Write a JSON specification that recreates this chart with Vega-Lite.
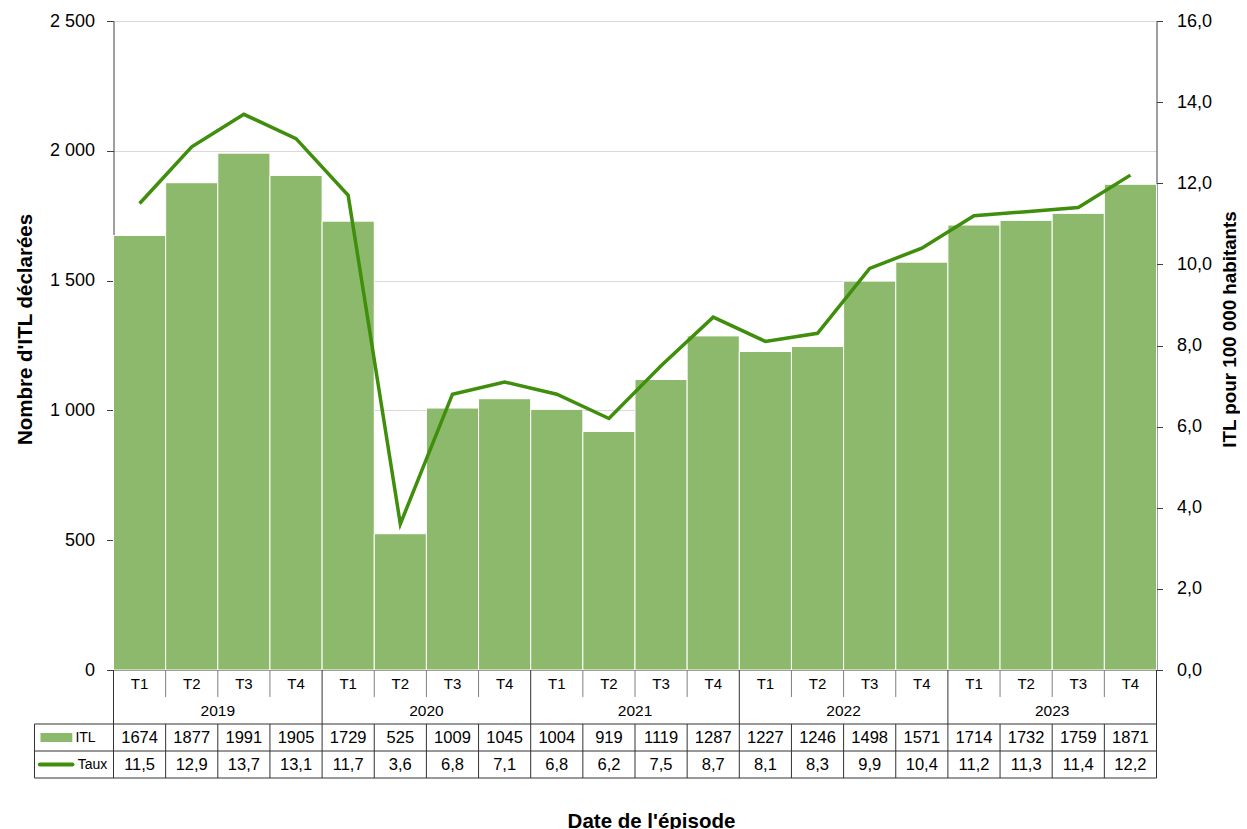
{
  "$schema": "https://vega.github.io/schema/vega-lite/v6.json",
  "background": "white",
  "padding": {"left": 14.5, "top": 12, "right": 0, "bottom": 0},
  "config": {
    "font": "Liberation Sans",
    "view": {"stroke": null},
    "locale": {"number": {"decimal": ",", "thousands": " ", "grouping": [3], "currency": ["", " €"]}},
    "axis": {"labelColor": "#000", "titleColor": "#000", "labelFontSize": 18, "domainColor": "#404040", "tickColor": "#404040"}
  },
  "data": {"values": [
    {"key": "2019-T1", "year": "2019", "q": "T1", "itl": 1674, "taux": 11.5},
    {"key": "2019-T2", "year": "2019", "q": "T2", "itl": 1877, "taux": 12.9},
    {"key": "2019-T3", "year": "2019", "q": "T3", "itl": 1991, "taux": 13.7},
    {"key": "2019-T4", "year": "2019", "q": "T4", "itl": 1905, "taux": 13.1},
    {"key": "2020-T1", "year": "2020", "q": "T1", "itl": 1729, "taux": 11.7},
    {"key": "2020-T2", "year": "2020", "q": "T2", "itl": 525, "taux": 3.6},
    {"key": "2020-T3", "year": "2020", "q": "T3", "itl": 1009, "taux": 6.8},
    {"key": "2020-T4", "year": "2020", "q": "T4", "itl": 1045, "taux": 7.1},
    {"key": "2021-T1", "year": "2021", "q": "T1", "itl": 1004, "taux": 6.8},
    {"key": "2021-T2", "year": "2021", "q": "T2", "itl": 919, "taux": 6.2},
    {"key": "2021-T3", "year": "2021", "q": "T3", "itl": 1119, "taux": 7.5},
    {"key": "2021-T4", "year": "2021", "q": "T4", "itl": 1287, "taux": 8.7},
    {"key": "2022-T1", "year": "2022", "q": "T1", "itl": 1227, "taux": 8.1},
    {"key": "2022-T2", "year": "2022", "q": "T2", "itl": 1246, "taux": 8.3},
    {"key": "2022-T3", "year": "2022", "q": "T3", "itl": 1498, "taux": 9.9},
    {"key": "2022-T4", "year": "2022", "q": "T4", "itl": 1571, "taux": 10.4},
    {"key": "2023-T1", "year": "2023", "q": "T1", "itl": 1714, "taux": 11.2},
    {"key": "2023-T2", "year": "2023", "q": "T2", "itl": 1732, "taux": 11.3},
    {"key": "2023-T3", "year": "2023", "q": "T3", "itl": 1759, "taux": 11.4},
    {"key": "2023-T4", "year": "2023", "q": "T4", "itl": 1871, "taux": 12.2}
  ]},
  "bounds": "flush",
  "spacing": 0,
  "vconcat": [
    {
      "width": 1043,
      "height": 649,
      "layer": [
        {
          "mark": {"type": "bar", "color": "#8DB96C", "stroke": "white", "strokeWidth": 1},
          "encoding": {
            "x": {"field": "key", "type": "ordinal", "scale": {"type": "band", "paddingInner": 0, "paddingOuter": 0},
                  "axis": {"labels": false, "ticks": false, "title": null, "grid": false, "domainColor": "#404040"}},
            "y": {"field": "itl", "type": "quantitative", "scale": {"domain": [0, 2500], "nice": false},
                  "axis": {"title": "Nombre d'ITL déclarées", "values": [0, 500, 1000, 1500, 2000, 2500],
                           "labelExpr": "replace(format(datum.value, ','), ',', ' ')",
                           "grid": true, "gridColor": "#D9D9D9", "tickSize": 7, "labelPadding": 12,
                           "titleFontSize": 20.5, "titleFontWeight": "bold", "titleAngle": 270, "titleBaseline": "bottom",
                           "titlePadding": 14, "titleY": 308}}
          }
        },
        {
          "mark": {"type": "line", "color": "#3F8E0C", "strokeWidth": 3.5},
          "encoding": {
            "x": {"field": "key", "type": "ordinal"},
            "y": {"field": "taux", "type": "quantitative", "scale": {"domain": [0, 16], "nice": false},
                  "axis": {"orient": "right", "title": "ITL pour 100 000 habitants", "values": [0, 2, 4, 6, 8, 10, 12, 14, 16],
                           "labelExpr": "replace(format(datum.value, '.1f'), '.', ',')",
                           "grid": false, "tickSize": 6, "labelPadding": 14,
                           "titleFontSize": 18.8, "titleFontWeight": "bold", "titleAngle": 270, "titleBaseline": "top",
                           "titlePadding": 9, "titleY": 308}}
          }
        }
      ],
      "resolve": {"scale": {"y": "independent"}}
    },
    {
      "width": 1043,
      "height": 108,
      "layer": [
        {
          "mark": {"type": "text", "fontSize": 15, "color": "#000"},
          "encoding": {
            "x": {"field": "key", "type": "ordinal", "scale": {"type": "band", "paddingInner": 0, "paddingOuter": 0},
                  "axis": {"labels": false, "ticks": false, "domain": false, "grid": false, "title": "Date de l'épisode",
                           "titleFontSize": 20.5, "titleFontWeight": "bold", "titlePadding": 33.5, "titleX": 537.5}},
            "y": {"datum": 0.5, "type": "quantitative", "scale": {"domain": [0, 4], "reverse": true, "nice": false, "zero": false}, "axis": null},
            "text": {"field": "q"}
          }
        },
        {
          "mark": {"type": "text", "fontSize": 15.5, "color": "#000"},
          "encoding": {
            "x": {"field": "key", "type": "ordinal", "bandPosition": 0, "scale": {"type": "band", "paddingInner": 0, "paddingOuter": 0}, "axis": null},
            "y": {"datum": 1.5, "type": "quantitative"},
            "text": {"field": "year"},
            "opacity": {"condition": {"test": "datum.q === 'T3'", "value": 1}, "value": 0}
          }
        },
        {
          "mark": {"type": "text", "fontSize": 16.5, "color": "#000"},
          "encoding": {
            "x": {"field": "key", "type": "ordinal", "scale": {"type": "band", "paddingInner": 0, "paddingOuter": 0}, "axis": null},
            "y": {"datum": 2.5, "type": "quantitative"},
            "text": {"field": "itl", "type": "quantitative", "format": "d"}
          }
        },
        {
          "mark": {"type": "text", "fontSize": 16.5, "color": "#000"},
          "encoding": {
            "x": {"field": "key", "type": "ordinal", "scale": {"type": "band", "paddingInner": 0, "paddingOuter": 0}, "axis": null},
            "y": {"datum": 3.5, "type": "quantitative"},
            "text": {"field": "taux", "type": "quantitative", "format": ".1f"}
          }
        },
        {
          "mark": {"type": "rule", "color": "#333333", "strokeWidth": 1},
          "encoding": {
            "x": {"field": "key", "type": "ordinal", "bandPosition": 0, "scale": {"type": "band", "paddingInner": 0, "paddingOuter": 0}, "axis": null},
            "y": {"datum": 2, "type": "quantitative"},
            "y2": {"datum": 4}
          }
        },
        {
          "mark": {"type": "rule", "color": "#808080", "strokeWidth": 1},
          "encoding": {
            "x": {"field": "key", "type": "ordinal", "bandPosition": 0, "scale": {"type": "band", "paddingInner": 0, "paddingOuter": 0}, "axis": null},
            "y": {"datum": 0, "type": "quantitative"},
            "y2": {"datum": 1},
            "opacity": {"condition": {"test": "datum.q !== 'T1'", "value": 1}, "value": 0}
          }
        },
        {
          "mark": {"type": "rule", "color": "#333333", "strokeWidth": 1},
          "encoding": {
            "x": {"field": "key", "type": "ordinal", "bandPosition": 0, "scale": {"type": "band", "paddingInner": 0, "paddingOuter": 0}, "axis": null},
            "y": {"datum": 0, "type": "quantitative"},
            "y2": {"datum": 2},
            "opacity": {"condition": {"test": "datum.q === 'T1'", "value": 1}, "value": 0}
          }
        },
        {
          "mark": {"type": "rule", "color": "#333333", "strokeWidth": 1},
          "encoding": {
            "x": {"field": "key", "type": "ordinal", "bandPosition": 1, "scale": {"type": "band", "paddingInner": 0, "paddingOuter": 0}, "axis": null},
            "y": {"datum": 0, "type": "quantitative"},
            "y2": {"datum": 4},
            "opacity": {"condition": {"test": "datum.key === '2023-T4'", "value": 1}, "value": 0}
          }
        },
        {
          "data": {"values": [{}]},
          "mark": {"type": "rule", "color": "#333333", "strokeWidth": 1},
          "encoding": {
            "x": {"datum": -1.515, "type": "quantitative", "scale": {"domain": [0, 20], "nice": false, "zero": false}, "axis": null},
            "x2": {"datum": 20},
            "y": {"datum": 2, "type": "quantitative"}
          }
        },
        {
          "data": {"values": [{}]},
          "mark": {"type": "rule", "color": "#333333", "strokeWidth": 1},
          "encoding": {
            "x": {"datum": -1.515, "type": "quantitative", "scale": {"domain": [0, 20], "nice": false, "zero": false}, "axis": null},
            "x2": {"datum": 20},
            "y": {"datum": 3, "type": "quantitative"}
          }
        },
        {
          "data": {"values": [{}]},
          "mark": {"type": "rule", "color": "#333333", "strokeWidth": 1},
          "encoding": {
            "x": {"datum": -1.515, "type": "quantitative", "scale": {"domain": [0, 20], "nice": false, "zero": false}, "axis": null},
            "x2": {"datum": 20},
            "y": {"datum": 4, "type": "quantitative"}
          }
        },
        {
          "data": {"values": [{}]},
          "mark": {"type": "rule", "color": "#333333", "strokeWidth": 1},
          "encoding": {
            "x": {"datum": -1.515, "type": "quantitative", "scale": {"domain": [0, 20], "nice": false, "zero": false}, "axis": null},
            "y": {"datum": 2, "type": "quantitative"},
            "y2": {"datum": 4}
          }
        },
        {
          "data": {"values": [{}]},
          "mark": {"type": "rect", "color": "#8DB96C"},
          "encoding": {
            "x": {"datum": -1.4, "type": "quantitative", "scale": {"domain": [0, 20], "nice": false, "zero": false}, "axis": null},
            "x2": {"datum": -0.79},
            "y": {"datum": 2.33, "type": "quantitative"},
            "y2": {"datum": 2.67}
          }
        },
        {
          "data": {"values": [{}]},
          "mark": {"type": "rule", "color": "#3F8E0C", "strokeWidth": 4, "strokeCap": "round"},
          "encoding": {
            "x": {"datum": -1.413, "type": "quantitative", "scale": {"domain": [0, 20], "nice": false, "zero": false}, "axis": null},
            "x2": {"datum": -0.786},
            "y": {"datum": 3.5, "type": "quantitative"}
          }
        },
        {
          "data": {"values": [{}]},
          "mark": {"type": "text", "fontSize": 14, "align": "left", "color": "#000"},
          "encoding": {
            "x": {"datum": -0.73, "type": "quantitative", "scale": {"domain": [0, 20], "nice": false, "zero": false}, "axis": null},
            "y": {"datum": 2.5, "type": "quantitative"},
            "text": {"value": "ITL"}
          }
        },
        {
          "data": {"values": [{}]},
          "mark": {"type": "text", "fontSize": 14, "align": "left", "color": "#000"},
          "encoding": {
            "x": {"datum": -0.685, "type": "quantitative", "scale": {"domain": [0, 20], "nice": false, "zero": false}, "axis": null},
            "y": {"datum": 3.5, "type": "quantitative"},
            "text": {"value": "Taux"}
          }
        }
      ],
      "resolve": {"scale": {"x": "independent"}}
    }
  ]
}
